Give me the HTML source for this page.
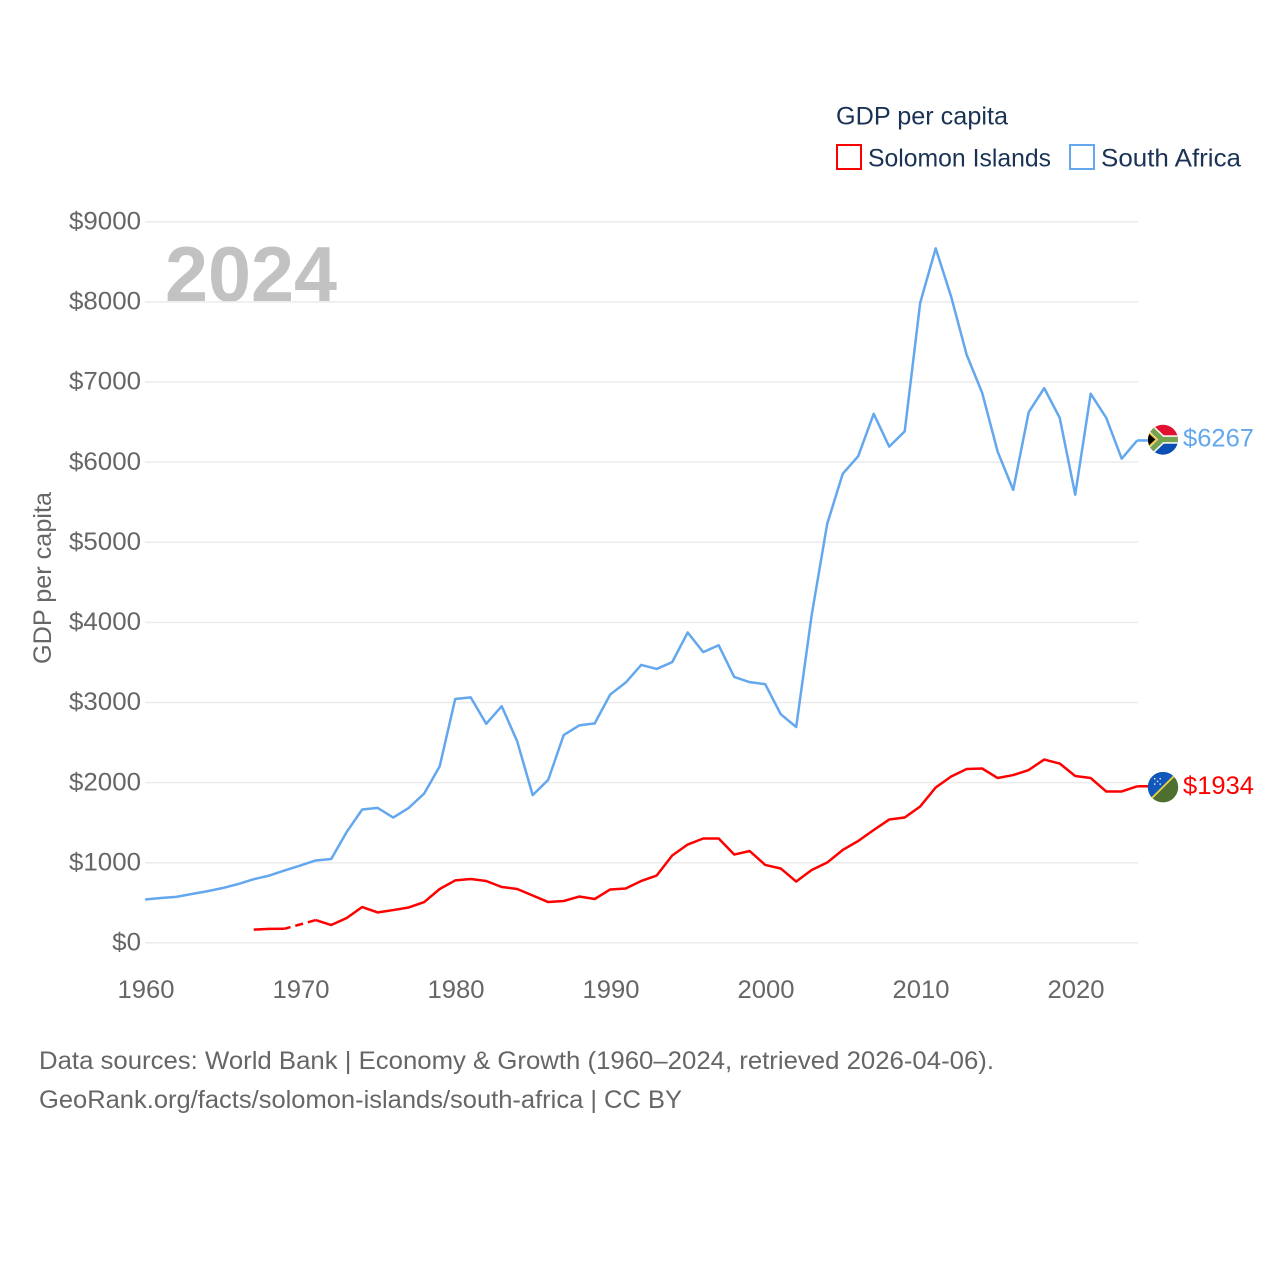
<!DOCTYPE html>
<html lang="en">
<head>
<meta charset="utf-8">
<title>GDP per capita: Solomon Islands and South Africa</title>
<style>
html,body{margin:0;padding:0;background:#fff;}
svg{display:block;}
text{font-family:"Liberation Sans",sans-serif;}
</style>
</head>
<body>
<svg id="chart" xmlns="http://www.w3.org/2000/svg" width="1280" height="1280" viewBox="0 0 1280 1280">
<defs>
<clipPath id="clip-za"><circle cx="1163" cy="439.7" r="15"/></clipPath>
<clipPath id="clip-sb"><circle cx="1163" cy="787.2" r="15.2"/></clipPath>
</defs>
<text x="165" y="301" font-size="78" font-weight="700" fill="#c2c2c2" textLength="172" lengthAdjust="spacingAndGlyphs">2024</text>
<g id="grid"></g>
<g id="y-ticks"></g>
<g id="x-ticks"></g>
<text transform="translate(51,664) rotate(-90)" font-size="25" fill="#666666" textLength="172" lengthAdjust="spacingAndGlyphs">GDP per capita</text>
<g id="series"></g>

<g clip-path="url(#clip-za)">
<rect x="1148" y="424" width="30" height="15.7" fill="#e0122f"/>
<rect x="1148" y="439.7" width="30" height="16" fill="#0b4fb3"/>
<path d="M1147 425 L1162 439.5 L1147 454 M1162 439.5 H1180" fill="none" stroke="#f4f4f0" stroke-width="8.5"/>
<path d="M1147 425 L1162 439.5 L1147 454 M1162 439.5 H1180" fill="none" stroke="#74a24f" stroke-width="5.2"/>
<path d="M1146 430 L1156.5 439.5 L1146 449 Z" fill="#000000" stroke="#f3c12c" stroke-width="1.6"/>
</g>
<g clip-path="url(#clip-sb)">
<rect x="1147" y="771" width="32" height="32" fill="#4d7030"/>
<path d="M1147 803 L1179 771 H1147 Z" fill="#1257bb"/>
<path d="M1147 803 L1179 771" stroke="#f1d548" stroke-width="1.7"/>
<g fill="#e8eef8">
<rect x="1154" y="778" width="1.4" height="1.4"/><rect x="1159.5" y="778" width="1.4" height="1.4"/>
<rect x="1156.8" y="780.7" width="1.4" height="1.4"/>
<rect x="1154" y="783.4" width="1.4" height="1.4"/><rect x="1159.5" y="783.4" width="1.4" height="1.4"/>
</g>
</g>

<text x="1183" y="446.5" font-size="25" fill="#63a7ee" textLength="71" lengthAdjust="spacingAndGlyphs">$6267</text>
<text x="1183" y="794" font-size="25" fill="#ff0000" textLength="71" lengthAdjust="spacingAndGlyphs">$1934</text>

<g>
<text x="836" y="124.5" font-size="25" fill="#1a3355" textLength="172" lengthAdjust="spacingAndGlyphs">GDP per capita</text>
<g>
<rect x="837" y="145" width="24" height="24" fill="#ffffff" stroke="#ff0000" stroke-width="2"/>
<text x="868" y="166.5" font-size="25" fill="#1a3355" textLength="183" lengthAdjust="spacingAndGlyphs">Solomon Islands</text>
</g>
<g>
<rect x="1070" y="145" width="24" height="24" fill="#ffffff" stroke="#63a7ee" stroke-width="2"/>
<text x="1101" y="166.5" font-size="25" fill="#1a3355" textLength="140" lengthAdjust="spacingAndGlyphs">South Africa</text>
</g>
</g>

<text x="39" y="1069" font-size="25" fill="#666666" textLength="955" lengthAdjust="spacingAndGlyphs">Data sources: World Bank | Economy &amp; Growth (1960–2024, retrieved 2026-04-06).</text>
<text x="39" y="1108" font-size="25" fill="#666666" textLength="643" lengthAdjust="spacingAndGlyphs">GeoRank.org/facts/solomon-islands/south-africa | CC BY</text>
</svg>
<script>
const years = [1960,1961,1962,1963,1964,1965,1966,1967,1968,1969,1970,1971,1972,1973,1974,1975,1976,1977,1978,1979,1980,1981,1982,1983,1984,1985,1986,1987,1988,1989,1990,1991,1992,1993,1994,1995,1996,1997,1998,1999,2000,2001,2002,2003,2004,2005,2006,2007,2008,2009,2010,2011,2012,2013,2014,2015,2016,2017,2018,2019,2020,2021,2022,2023,2024];
const southAfrica = [537,555,570,605,640,680,730,790,835,900,960,1024,1042,1380,1660,1680,1560,1680,1860,2200,3040,3060,2730,2950,2510,1840,2030,2590,2710,2735,3095,3245,3465,3415,3500,3870,3625,3710,3315,3250,3225,2850,2690,4090,5225,5850,6070,6600,6190,6380,7985,8665,8060,7335,6860,6125,5650,6620,6920,6550,5590,6850,6550,6040,6267];
const solomonIslands = [null,null,null,null,null,null,null,160,170,172,null,280,218,306,443,375,405,437,505,668,775,793,768,693,668,587,505,518,574,543,662,674,768,836,1086,1223,1298,1298,1098,1142,968,924,761,905,998,1155,1267,1404,1535,1560,1698,1935,2072,2165,2172,2053,2090,2153,2284,2234,2078,2053,1885,1885,1950];
const yTicks = [0,1000,2000,3000,4000,5000,6000,7000,8000,9000];
const xTicks = [1960,1970,1980,1990,2000,2010,2020];

const NS = 'http://www.w3.org/2000/svg';
const xScale = function (year) { return 145.2 + (year - 1960) * 15.5; };
const yScale = function (value) { return 942.5 - value * 0.08011; };

function mk(parent, tag) {
  const el = document.createElementNS(NS, tag);
  parent.appendChild(el);
  return el;
}

const grid = document.getElementById('grid');
const yG = document.getElementById('y-ticks');
yTicks.forEach(function (t) {
  const line = mk(grid, 'line');
  
  
  line.setAttribute('x1', 145);
  line.setAttribute('x2', 1138);
  line.setAttribute('y1', yScale(t) + 0.3);
  line.setAttribute('y2', yScale(t) + 0.3);
  line.setAttribute('stroke', '#ebebeb');
  line.setAttribute('stroke-width', 1.5);

  const label = mk(yG, 'text');
  
  
  const s = '$' + t;
  label.textContent = s;
  label.setAttribute('x', 141);
  label.setAttribute('y', yScale(t) + 8);
  label.setAttribute('text-anchor', 'end');
  label.setAttribute('font-size', 25);
  label.setAttribute('fill', '#666666');
  label.setAttribute('textLength', s.length * 14.4);
  label.setAttribute('lengthAdjust', 'spacingAndGlyphs');
});

const xG = document.getElementById('x-ticks');
xTicks.forEach(function (t) {
  const label = mk(xG, 'text');
  
  
  label.textContent = String(t);
  label.setAttribute('x', xScale(t) + 0.8);
  label.setAttribute('y', 998);
  label.setAttribute('text-anchor', 'middle');
  label.setAttribute('font-size', 25);
  label.setAttribute('fill', '#666666');
  label.setAttribute('textLength', 57);
  label.setAttribute('lengthAdjust', 'spacingAndGlyphs');
});

const seriesG = document.getElementById('series');

function drawRun(name, color, pts, dash) {
  const p = mk(seriesG, 'path');
  
  
  p.setAttribute('d', pts.map(function (q, i) { return (i ? 'L' : 'M') + q[0].toFixed(2) + ' ' + q[1].toFixed(2); }).join(' '));
  p.setAttribute('fill', 'none');
  p.setAttribute('stroke', color);
  p.setAttribute('stroke-width', 2.5);
  p.setAttribute('stroke-linejoin', 'round');
  if (dash) p.setAttribute('stroke-dasharray', dash);
}

function drawSeries(name, color, values) {
  let run = [];
  let lastPoint = null;
  values.forEach(function (v, i) {
    if (v === null) {
      if (run.length) { drawRun(name + '-line', color, run); lastPoint = run[run.length - 1]; }
      run = [];
      return;
    }
    const pt = [xScale(years[i]), yScale(v)];
    if (!run.length && lastPoint) {
      drawRun(name + '-gap-dashed', color, [lastPoint, pt], '6 5 8 5 10');
    }
    run.push(pt);
  });
  if (run.length) {
    drawRun(name + '-line', color, run);
    const end = run[run.length - 1];
    drawRun(name + '-connector', color, [end, [end[0] + 12, end[1]]]);
  }
}

drawSeries('south-africa', '#63a7ee', southAfrica);
drawSeries('solomon-islands', '#ff0000', solomonIslands);
</script>
</body>
</html>
